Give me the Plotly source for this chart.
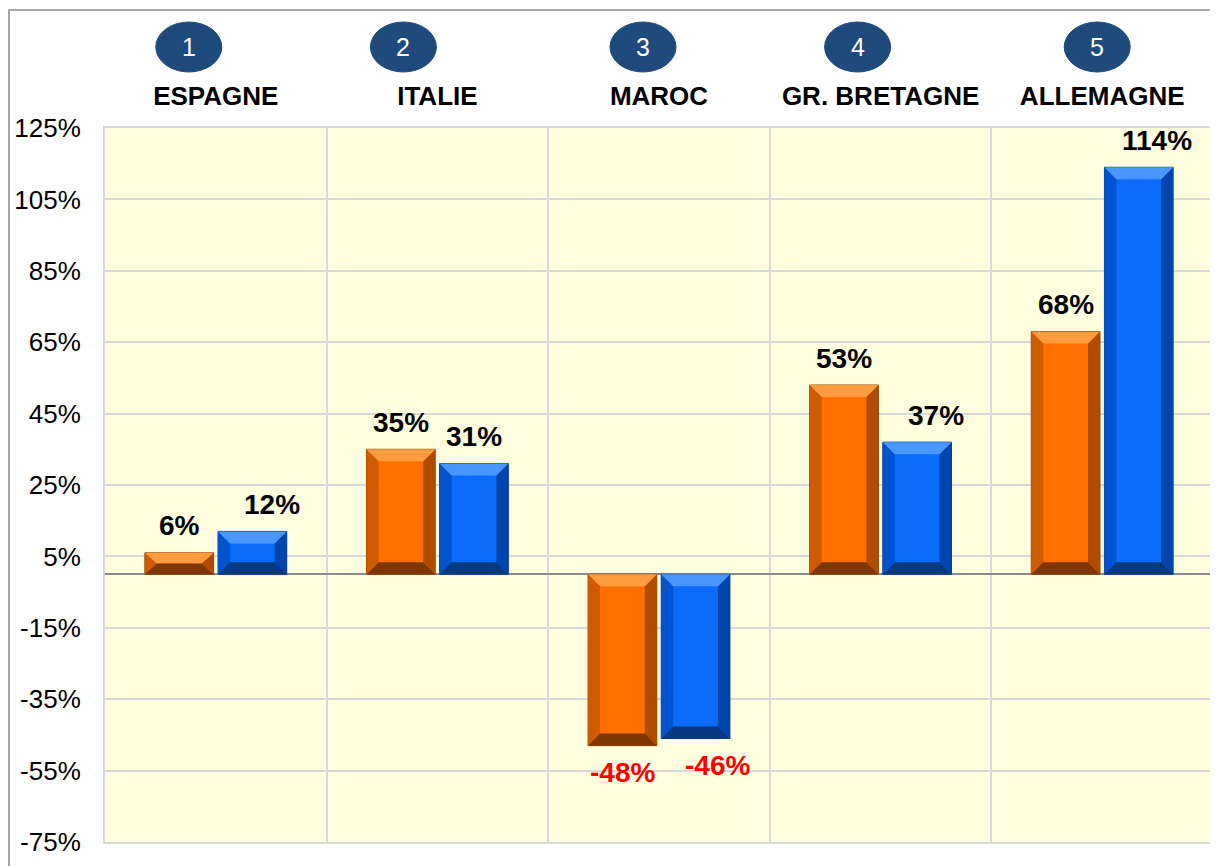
import plotly.graph_objects as go

# ---------------- data ----------------
CATEGORIES = ["ESPAGNE", "ITALIE", "MAROC", "GR. BRETAGNE", "ALLEMAGNE"]
RANKS = ["1", "2", "3", "4", "5"]
SERIES_A = [6, 35, -48, 53, 68]      # orange
SERIES_B = [12, 31, -46, 37, 114]    # blue
Y_TICKS = [-75, -55, -35, -15, 5, 25, 45, 65, 85, 105, 125]

# ---------------- layout geometry (pixels) ----------------
PAGE = 8                      # default body margin of the html page
W, H = 1218 - PAGE, 866 - PAGE
ML, MR, MT, MB = 105 - PAGE, 5, 128 - PAGE, 24
PW, PH = W - ML - MR, H - MT - MB
Y0, Y1 = -75, 125
X0, X1 = -0.5, len(CATEGORIES) - 0.5
PX_X = (X1 - X0) / PW      # data units per pixel (x)
PX_Y = (Y1 - Y0) / PH      # data units per pixel (y)

BAR_W = 0.31
OFF_A, OFF_B = -0.32, 0.01

ORANGE = dict(face="#FF7000", top="#FF9C40", left="#CF5B00", right="#B04C00", bottom="#7E3600", line="#8A3E00")
BLUE = dict(face="#0A6CF8", top="#4A98FF", left="#0053CF", right="#0045AD", bottom="#08387E", line="#063C8C")

# label horizontal nudges (pixels), style only
DX_A = [0, 0, 0, 0, 0]
DX_B = [20, 0, 22, 19, 18]
# rank-badge horizontal offset from category centre (pixels), style only
BADGE_DX = [-27, -34, -16, -23, -5]

xs = list(range(len(CATEGORIES)))

fig = go.Figure()
for vals, off, col, name in [(SERIES_A, OFF_A, ORANGE, "Série 1"), (SERIES_B, OFF_B, BLUE, "Série 2")]:
    fig.add_trace(go.Bar(
        x=xs, y=vals, width=BAR_W, offset=off, name=name,
        marker=dict(color=col["face"], line=dict(color=col["line"], width=1)),
        showlegend=False, hoverinfo="y",
    ))

shapes = []
bx = 12 * PX_X
for vals, off, col in [(SERIES_A, OFF_A, ORANGE), (SERIES_B, OFF_B, BLUE)]:
    for i, v in enumerate(vals):
        x0 = i + off
        x1 = x0 + BAR_W
        yt, yb = max(0, v), min(0, v)
        hpx = abs(v) / PX_Y
        by = min(12, hpx / 2) * PX_Y
        polys = {
            "left": [(x0, yt), (x0 + bx, yt - by), (x0 + bx, yb + by), (x0, yb)],
            "right": [(x1, yt), (x1 - bx, yt - by), (x1 - bx, yb + by), (x1, yb)],
            "top": [(x0, yt), (x1, yt), (x1 - bx, yt - by), (x0 + bx, yt - by)],
            "bottom": [(x0, yb), (x1, yb), (x1 - bx, yb + by), (x0 + bx, yb + by)],
        }
        for key, pts in polys.items():
            path = "M " + " L ".join(f"{px},{py}" for px, py in pts) + " Z"
            shapes.append(dict(type="path", xref="x", yref="y", path=path,
                               fillcolor=col[key], line=dict(width=0), layer="above"))

# page pixel -> paper coordinates
def pxx(p):
    return (p - PAGE - ML) / PW

def pxy(p):
    return (H - MB - (p - PAGE)) / PH

# outer border
shapes.append(dict(type="rect", xref="paper", yref="paper",
                   x0=pxx(9), x1=pxx(1218 + 20), y0=pxy(866 + 20), y1=pxy(10),
                   line=dict(color="#A6A6A6", width=2), fillcolor="rgba(0,0,0,0)", layer="below"))

annotations = []
# rank badges
for i, r in enumerate(RANKS):
    cx = PAGE + ML + (i - X0) / PX_X + BADGE_DX[i]
    cy = 47
    shapes.append(dict(type="circle", xref="paper", yref="paper",
                       x0=pxx(cx - 33), x1=pxx(cx + 33), y0=pxy(cy + 25), y1=pxy(cy - 25),
                       fillcolor="#1F4A7C", line=dict(color="#1F4A7C", width=1)))
    annotations.append(dict(xref="paper", yref="paper", x=pxx(cx), y=pxy(cy), text=r,
                            showarrow=False, font=dict(family="Liberation Sans, Arial", size=25, color="white"),
                            xanchor="center", yanchor="middle"))

# value labels
for vals, off, dxs in [(SERIES_A, OFF_A, DX_A), (SERIES_B, OFF_B, DX_B)]:
    for i, v in enumerate(vals):
        neg = v < 0
        annotations.append(dict(
            xref="x", yref="y", x=i + off + BAR_W / 2, y=v, text=f"{v}%",
            showarrow=False, xanchor="center", yanchor="middle",
            xshift=dxs[i], yshift=(-27 if neg else 27),
            font=dict(family="Liberation Sans, Arial", size=28, color="#FF0000" if neg else "#000000", weight="bold"),
        ))

fig.update_layout(
    width=W, height=H,
    margin=dict(l=ML, r=MR, t=MT, b=MB, pad=0, autoexpand=False),
    paper_bgcolor="white", plot_bgcolor="#FFFEDF",
    barmode="overlay",
    shapes=shapes, annotations=annotations,
    font=dict(family="Liberation Sans, Arial", color="black"),
    xaxis=dict(
        range=[X0, X1], tickmode="array", tickvals=xs, ticktext=CATEGORIES,
        side="top", showgrid=False, zeroline=False, automargin=False,
        ticks="outside", ticklen=11, tickcolor="rgba(0,0,0,0)",
        tickfont=dict(size=26, weight="bold", color="black"),
        minor=dict(tick0=0.5, dtick=1, showgrid=True, gridcolor="#D9D9D9", gridwidth=2, ticks=""),
        showline=True, mirror=True, linecolor="#D9D9D9", linewidth=2,
        fixedrange=True,
    ),
    yaxis=dict(
        range=[Y0, Y1], tickmode="array", tickvals=Y_TICKS,
        ticktext=[f"{t}%" for t in Y_TICKS],
        showgrid=True, gridcolor="#D9D9D9", gridwidth=2, automargin=False,
        zeroline=True, zerolinecolor="#8C8C8C", zerolinewidth=2,
        ticks="outside", ticklen=17, tickcolor="rgba(0,0,0,0)",
        tickfont=dict(size=26, color="black"),
        showline=True, mirror=True, linecolor="#D9D9D9", linewidth=2,
        fixedrange=True,
    ),
)

fig.write_html("out.html")
